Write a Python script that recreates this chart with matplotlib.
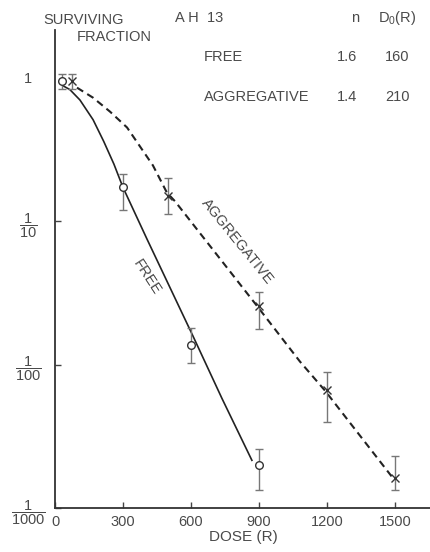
import matplotlib
matplotlib.use("Agg")
import matplotlib.pyplot as plt
from matplotlib.ticker import NullLocator

plt.rcParams['font.family'] = ['Liberation Sans', 'DejaVu Sans']
plt.rcParams['mathtext.fontset'] = 'custom'
plt.rcParams['mathtext.rm'] = 'Liberation Sans'
plt.rcParams['mathtext.it'] = 'Liberation Sans'

# measured points (dose in R, surviving fraction)
free_dose = [30, 300, 600, 900]
free_sf = [0.95, 0.172, 0.0138, 0.0020]
free_err_hi = [1.07, 0.212, 0.0181, 0.00257]
free_err_lo = [0.83, 0.119, 0.0102, 0.00133]

aggr_dose = [75, 500, 900, 1200, 1500]
aggr_sf = [0.95, 0.151, 0.0257, 0.0066, 0.00162]
aggr_err_hi = [1.07, 0.199, 0.0321, 0.0089, 0.00229]
aggr_err_lo = [0.83, 0.112, 0.0178, 0.0040, 0.00133]

# fitted curves
free_curve_dose = [35, 66, 110, 168, 215, 260, 300, 406, 609, 737, 869]
free_curve_sf = [0.88, 0.826, 0.70, 0.51, 0.36, 0.25, 0.172, 0.075, 0.0158, 0.0058, 0.00215]

aggr_curve_dose = [97, 168, 243, 318, 375, 432, 494, 529, 891, 1081, 1191, 1491]
aggr_curve_sf = [0.853, 0.726, 0.58, 0.45, 0.332, 0.245, 0.158, 0.138, 0.0257, 0.0105,
                 0.0066, 0.00162]

x_ticks = [0, 300, 600, 900, 1200, 1500]
y_ticks = [1, 0.1, 0.01, 0.001]
y_labels = ['1', r'$\dfrac{1}{10}$', r'$\dfrac{1}{100}$', r'$\dfrac{1}{1000}$']

txt = '#4a4a4a'
fs = 10.5
W, H = 430, 552

fig = plt.figure(figsize=(4.3, 5.52), dpi=100)
ax = fig.add_axes([55 / W, 1 - 508 / H, 1 - 55 / W, (508 - 30) / H])

ax.plot(free_curve_dose, free_curve_sf, color='#222222', lw=1.2)
ax.plot(aggr_curve_dose, aggr_curve_sf, color='#222222', lw=1.5, dashes=(3.5, 2.3))

ax.errorbar(free_dose, free_sf,
            yerr=[[s - lo for s, lo in zip(free_sf, free_err_lo)],
                  [hi - s for s, hi in zip(free_sf, free_err_hi)]],
            fmt='o', mfc='white', mec='#333333', mew=1.0, ms=5.5,
            ecolor='#777777', elinewidth=1.0, capsize=3, capthick=1.0)
ax.errorbar(aggr_dose, aggr_sf,
            yerr=[[s - lo for s, lo in zip(aggr_sf, aggr_err_lo)],
                  [hi - s for s, hi in zip(aggr_sf, aggr_err_hi)]],
            fmt='x', color='#333333', mew=1.0, ms=5.5,
            ecolor='#777777', elinewidth=1.0, capsize=3, capthick=1.0)

ax.set_yscale('log')
ax.set_xlim(0, 1655)
ax.set_ylim(10 ** -2.986, 10 ** 0.333)
ax.yaxis.set_minor_locator(NullLocator())

for s in ['top', 'right']:
    ax.spines[s].set_visible(False)
for s in ['left', 'bottom']:
    ax.spines[s].set_color('#333333')
    ax.spines[s].set_linewidth(1.3)

ax.set_xticks(x_ticks)
ax.set_xticklabels([str(v) for v in x_ticks], color=txt, fontsize=fs)
ax.set_yticks(y_ticks)
ax.set_yticklabels(y_labels, color=txt, fontsize=fs)
for lab in ax.get_yticklabels():
    lab.set_horizontalalignment('center')
ax.tick_params(axis='x', direction='in', length=4, width=1, color='#444444', pad=5)
ax.tick_params(axis='y', direction='in', length=4, width=1, color='#444444', pad=19.5)
ax.yaxis.get_major_ticks()[0].tick1line.set_visible(False)

fig.text(243 / W, 1 - 537 / H, 'DOSE (R)', ha='center', va='center', color=txt, fontsize=fs + 0.5)

# header block
fig.text(43 / W, 1 - 20 / H, 'SURVIVING', ha='left', va='center', color=txt, fontsize=fs)
fig.text(77 / W, 1 - 37 / H, 'FRACTION', ha='left', va='center', color=txt, fontsize=fs)
fig.text(175 / W, 1 - 18 / H, 'A H  13', ha='left', va='center', color=txt, fontsize=fs)
fig.text(355 / W, 1 - 18 / H, 'n', ha='center', va='center', color=txt, fontsize=fs)
fig.text(397 / W, 1 - 18 / H, r'D$_0$(R)', ha='center', va='center', color=txt, fontsize=fs)

rows = [('FREE', '1.6', '160'), ('AGGREGATIVE', '1.4', '210')]
for (name, n, d0), y in zip(rows, [57, 97]):
    fig.text(204 / W, 1 - y / H, name, ha='left', va='center', color=txt, fontsize=fs)
    fig.text(347 / W, 1 - y / H, n, ha='center', va='center', color=txt, fontsize=fs)
    fig.text(397 / W, 1 - y / H, d0, ha='center', va='center', color=txt, fontsize=fs)

ax.text(803, 10 ** -1.14, 'AGGREGATIVE', rotation=-51, rotation_mode='anchor',
        ha='center', va='center', color=txt, fontsize=fs)
ax.text(406, 10 ** -1.39, 'FREE', rotation=-57, rotation_mode='anchor',
        ha='center', va='center', color=txt, fontsize=fs)

fig.savefig('out.png', dpi=100)
